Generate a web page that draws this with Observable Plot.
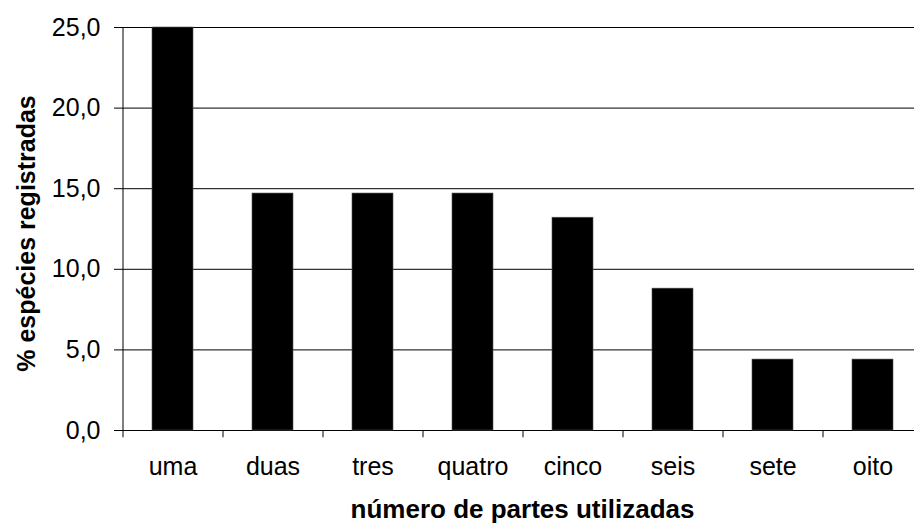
<!DOCTYPE html>
<html>
<head>
<meta charset="utf-8">
<script src="https://cdn.jsdelivr.net/npm/d3@7"></script>
<script src="https://cdn.jsdelivr.net/npm/@observablehq/plot@0.6"></script>
<style>
  html, body { margin: 0; padding: 0; background: #fff; overflow: hidden; }
  #chart svg { overflow: hidden; }
</style>
</head>
<body>
<div id="chart"></div>
<script>
const categories = ["uma", "duas", "tres", "quatro", "cinco", "seis", "sete", "oito"];
const values = [25.0, 14.7, 14.7, 14.7, 13.2, 8.8, 4.4, 4.4];
const yTicks = [0, 5, 10, 15, 20, 25];
const xTitle = "número de partes utilizadas";
const yTitle = "% espécies registradas";

const data = categories.map((c, i) => ({ cat: c, value: values[i] }));
const fmt = d => d.toFixed(1).replace(".", ",");
const font = "'Liberation Sans', Arial, Helvetica, sans-serif";

const chart = Plot.plot({
  width: 914,
  height: 524,
  marginTop: 27, marginBottom: 94, marginLeft: 122, marginRight: -8,
  style: { fontFamily: font, fontSize: "25px", color: "#000", background: "#fff" },
  x: { domain: categories, padding: 0.59, paddingOuter: 0.295, axis: null },
  y: { domain: [0, 25], axis: null },
  marks: [
    Plot.ruleY(yTicks, { stroke: "#000", strokeWidth: 1 }),
    Plot.barY(data, { x: "cat", y: "value", fill: "#000", stroke: "#555", strokeWidth: 0.6 }),
    // vertical axis line
    Plot.ruleX([categories[0]], { x: d => d, dx: -50, y1: 0, y2: 25, stroke: "#000" }),
    // x ticks at category boundaries
    Plot.ruleX(categories, { x: d => d, dx: -50, y1: 0, y2: -0.45, stroke: "#000" }),
    Plot.axisY({ ticks: yTicks, tickFormat: fmt, tickSize: 8, tickPadding: 14, anchor: "left", label: null, fontSize: 25 }),
    Plot.axisX({ tickSize: 0, tickPadding: 27, anchor: "bottom", label: null, fontSize: 25 }),
    Plot.text([xTitle], { frameAnchor: "bottom", dy: 87, text: d => d, fontWeight: "bold", fontSize: 26, letterSpacing: "0.3px" }),
    Plot.text([yTitle], { frameAnchor: "left", textAnchor: "middle", dx: -96, dy: 4.5, rotate: -90, text: d => d, fontWeight: "bold", fontSize: 25, letterSpacing: "0.1px" })
  ]
});
document.getElementById("chart").appendChild(chart);
</script>
</body>
</html>
